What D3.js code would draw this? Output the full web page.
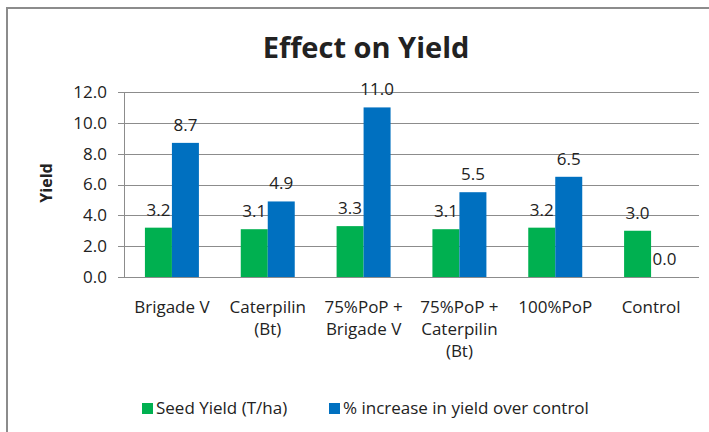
<!DOCTYPE html>
<html>
<head>
<meta charset="utf-8">
<script src="https://cdn.jsdelivr.net/npm/d3@7"></script>
<style>
  body { margin: 0; background: #fff; }
  text { font-family: "Open Sans", sans-serif; fill: #222; }
</style>
</head>
<body>
<svg id="chart"></svg>
<script>
const categories = ["Brigade V", "Caterpilin\n(Bt)", "75%PoP +\nBrigade V", "75%PoP +\nCaterpilin\n(Bt)", "100%PoP", "Control"];
const seedYield = [3.2, 3.1, 3.3, 3.1, 3.2, 3.0];
const pctIncrease = [8.7, 4.9, 11.0, 5.5, 6.5, 0.0];
const yTicks = [0, 2, 4, 6, 8, 10, 12];
const seriesNames = ["Seed Yield (T/ha)", "% increase in yield over control"];
const colors = ["#00b050", "#0070c0"];

const width = 709;
const height = 432;
const margin = { top: 92, right: 10, bottom: 155, left: 124 };

const svg = d3.select("#chart")
    .attr("width", width)
    .attr("height", height);

// frame (left + top only)
svg.append("path")
    .attr("d", `M7,${height} V8 H${width}`)
    .attr("fill", "none")
    .attr("stroke", "#8c8c8c")
    .attr("stroke-width", 2);

const x0 = d3.scaleBand()
    .domain(categories)
    .range([margin.left, width - margin.right]);

const x1 = d3.scaleBand()
    .domain([0, 1])
    .range([0, x0.bandwidth()])
    .paddingInner(0)
    .paddingOuter(0.775);

const y = d3.scaleLinear()
    .domain([0, 12])
    .range([height - margin.bottom, margin.top]);

// gridlines
svg.append("g")
    .selectAll("line")
    .data(yTicks)
    .join("line")
    .attr("x1", margin.left - 6)
    .attr("x2", width - margin.right)
    .attr("y1", d => Math.round(y(d)) + 0.5)
    .attr("y2", d => Math.round(y(d)) + 0.5)
    .attr("stroke", "#8c8c8c")
    .attr("stroke-width", 1);

// y axis line
svg.append("line")
    .attr("x1", margin.left + 0.5)
    .attr("x2", margin.left + 0.5)
    .attr("y1", y(12))
    .attr("y2", y(0))
    .attr("stroke", "#8c8c8c");

// y tick labels
svg.append("g")
    .selectAll("text")
    .data(yTicks)
    .join("text")
    .attr("x", margin.left - 17)
    .attr("y", d => y(d))
    .attr("dy", "0.35em")
    .attr("text-anchor", "end")
    .attr("font-size", "17px")
    .text(d => d.toFixed(1));

// bars
const series = [seedYield, pctIncrease];
const groups = svg.append("g")
    .selectAll("g")
    .data(categories)
    .join("g")
    .attr("transform", d => `translate(${x0(d)},0)`);

groups.selectAll("rect")
    .data((d, i) => series.map((s, j) => ({ s: j, v: s[i] })))
    .join("rect")
    .attr("x", d => x1(d.s))
    .attr("y", d => y(d.v))
    .attr("width", x1.bandwidth())
    .attr("height", d => y(0) - y(d.v))
    .attr("fill", d => colors[d.s]);

groups.selectAll(".lbl")
    .data((d, i) => series.map((s, j) => ({ s: j, v: s[i] })))
    .join("text")
    .attr("class", "lbl")
    .attr("x", d => x1(d.s) + x1.bandwidth() / 2)
    .attr("y", d => y(d.v) - 12)
    .attr("text-anchor", "middle")
    .attr("font-size", "17px")
    .text(d => d.v.toFixed(1));

// category labels
const catLabels = svg.append("g")
    .selectAll("text")
    .data(categories)
    .join("text")
    .attr("x", d => x0(d) + x0.bandwidth() / 2)
    .attr("y", 313)
    .attr("text-anchor", "middle")
    .attr("font-size", "17px");

catLabels.selectAll("tspan")
    .data(d => d.split("\n"))
    .join("tspan")
    .attr("x", function() { return this.parentNode.getAttribute("x"); })
    .attr("dy", (d, i) => i === 0 ? 0 : 22)
    .text(d => d);

// title
svg.append("text")
    .attr("x", 366)
    .attr("y", 58)
    .attr("text-anchor", "middle")
    .attr("font-size", "29px")
    .attr("font-weight", "bold")
    .text("Effect on Yield");

// y axis title
svg.append("text")
    .attr("transform", "translate(52,183) rotate(-90)")
    .attr("text-anchor", "middle")
    .attr("font-size", "16px")
    .attr("font-weight", "bold")
    .text("Yield");

// legend
const legendX = [142, 329];
const legend = svg.append("g")
    .selectAll("g")
    .data(seriesNames)
    .join("g")
    .attr("transform", (d, i) => `translate(${legendX[i]},403)`);

legend.append("rect")
    .attr("width", 11)
    .attr("height", 11)
    .attr("fill", (d, i) => colors[i]);

legend.append("text")
    .attr("x", 14)
    .attr("y", 5.5)
    .attr("dy", "0.35em")
    .attr("font-size", "17px")
    .text(d => d);
</script>
</body>
</html>
